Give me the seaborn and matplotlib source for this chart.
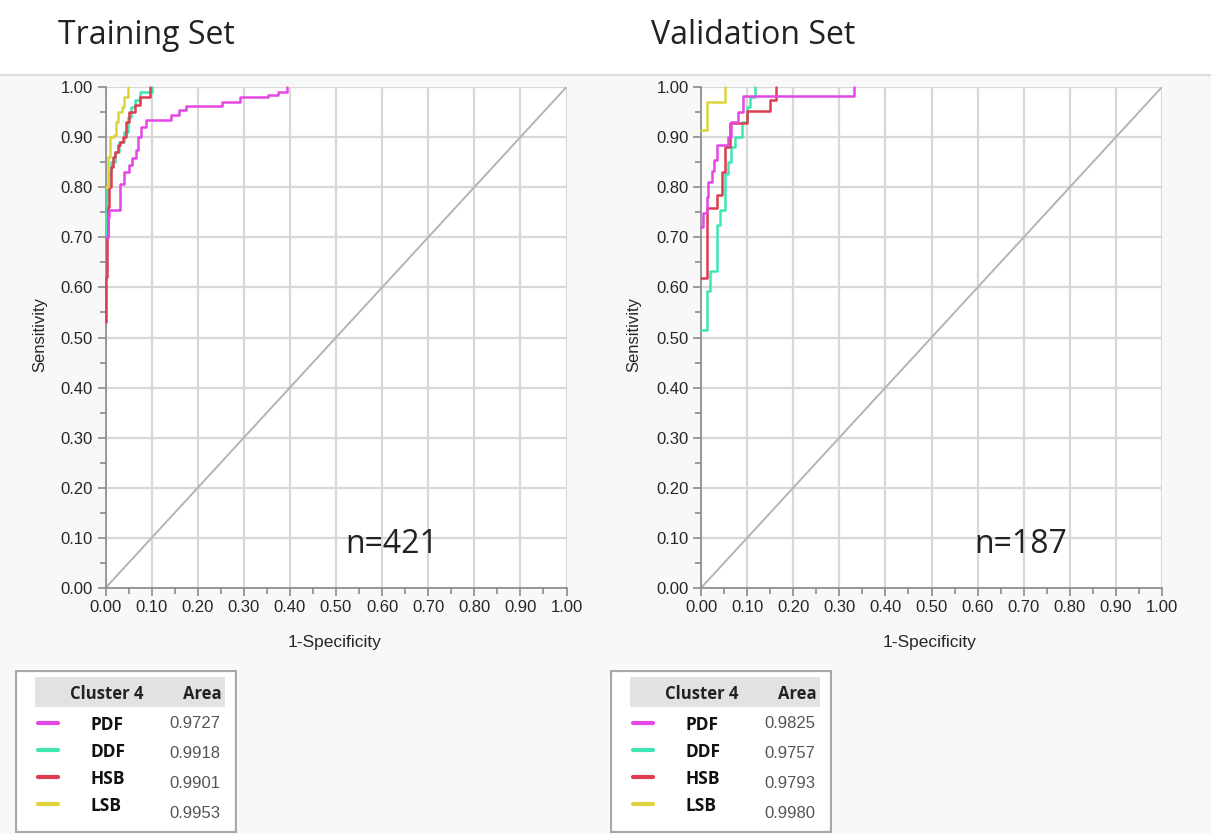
import numpy as np
import matplotlib
matplotlib.use("Agg")
import matplotlib.pyplot as plt
import seaborn as sns
from matplotlib.patches import Rectangle
from matplotlib.lines import Line2D

sns.set_style("white")
plt.rcParams['font.family'] = ['Liberation Sans', 'DejaVu Sans']

# ---- data (points = riser x, top of riser y) ----
methods = ['PDF', 'DDF', 'HSB', 'LSB']
colors = {'PDF': '#e448e4', 'DDF': '#3ee6b4', 'HSB': '#e03c50', 'LSB': '#dcd43a'}

train_pdf_fpr = [0, 0.005, 0.008, 0.032, 0.04, 0.05, 0.058, 0.066, 0.07, 0.077, 0.088, 0.141, 0.159, 0.174, 0.252, 0.291, 0.352, 0.374, 0.394]
train_pdf_tpr = [0.70, 0.74, 0.755, 0.806, 0.83, 0.845, 0.858, 0.875, 0.90, 0.92, 0.935, 0.945, 0.955, 0.963, 0.97, 0.98, 0.985, 0.99, 1.0]
train_ddf_fpr = [0, 0, 0.003, 0.008, 0.012, 0.02, 0.03, 0.04, 0.048, 0.055, 0.065, 0.075, 0.1]
train_ddf_tpr = [0.70, 0.75, 0.80, 0.83, 0.85, 0.87, 0.89, 0.91, 0.94, 0.96, 0.975, 0.99, 1.0]
train_hsb_fpr = [0, 0.002, 0.004, 0.006, 0.008, 0.011, 0.016, 0.02, 0.027, 0.032, 0.038, 0.045, 0.052, 0.063, 0.074, 0.097]
train_hsb_tpr = [0.53, 0.62, 0.70, 0.76, 0.80, 0.84, 0.86, 0.87, 0.885, 0.89, 0.90, 0.93, 0.95, 0.965, 0.98, 1.0]
train_lsb_fpr = [0, 0.005, 0.009, 0.018, 0.022, 0.027, 0.035, 0.04, 0.048]
train_lsb_tpr = [0.80, 0.86, 0.90, 0.905, 0.93, 0.95, 0.96, 0.98, 1.0]

valid_pdf_fpr = [0, 0.005, 0.012, 0.016, 0.023, 0.028, 0.035, 0.059, 0.066, 0.081, 0.091, 0.332]
valid_pdf_tpr = [0.72, 0.748, 0.78, 0.81, 0.833, 0.854, 0.884, 0.90, 0.93, 0.95, 0.983, 1.0]
valid_ddf_fpr = [0, 0.003, 0.012, 0.019, 0.034, 0.041, 0.052, 0.059, 0.066, 0.073, 0.088, 0.099, 0.106, 0.117]
valid_ddf_tpr = [0.514, 0.514, 0.592, 0.633, 0.724, 0.755, 0.827, 0.85, 0.88, 0.90, 0.93, 0.96, 0.98, 1.0]
valid_hsb_fpr = [0, 0.012, 0.034, 0.045, 0.052, 0.063, 0.099, 0.149, 0.163]
valid_hsb_tpr = [0.619, 0.758, 0.785, 0.83, 0.881, 0.929, 0.952, 0.975, 1.0]
valid_lsb_fpr = [0, 0.012, 0.052]
valid_lsb_tpr = [0.915, 0.97, 1.0]

train_area = ['0.9727', '0.9918', '0.9901', '0.9953']
valid_area = ['0.9825', '0.9757', '0.9793', '0.9980']

W, H = 1211, 834
fig = plt.figure(figsize=(W / 100, H / 100), dpi=100, facecolor='white')

# light gray report panel below the titles
bg = fig.add_axes([0, 0, 1, (H - 75) / H], zorder=-10)
bg.set_facecolor('#f8f8f8')
bg.set_xticks([]); bg.set_yticks([])
for s in ['left', 'right', 'bottom']:
    bg.spines[s].set_visible(False)
bg.spines['top'].set_color('#dcdcdc')
bg.spines['top'].set_linewidth(1.5)


def px(x, y):
    return x / W, 1 - y / H


def roc_panel(left_px, title, title_x, n_text, n_x, curves, ylab_x, xlab_x):
    ax = fig.add_axes([left_px / W, (H - 588) / H, 461 / W, 501 / H])
    ax.set_facecolor('white')
    ax.set_xlim(0, 1)
    ax.set_ylim(0, 1)
    ticks = np.round(np.arange(0, 1.01, 0.1), 2)
    ax.set_xticks(ticks)
    ax.set_yticks(ticks)
    ax.set_xticks(np.arange(0.05, 1, 0.1), minor=True)
    ax.set_yticks(np.arange(0.05, 1, 0.1), minor=True)
    ax.set_xticklabels([f'{t:.2f}' for t in ticks])
    ax.set_yticklabels([f'{t:.2f}' for t in ticks])
    ax.tick_params(which='major', direction='out', length=6, width=1.2, color='#8a8a8a',
                   labelsize=12, labelcolor='#262626', pad=3, left=True, bottom=True)
    ax.tick_params(which='minor', direction='out', length=4, width=1.2, color='#8a8a8a',
                   left=True, bottom=True)
    ax.grid(True, which='major', color='#d8d8d8', lw=1.6)
    ax.set_axisbelow(True)
    for s in ['top', 'right']:
        ax.spines[s].set_visible(False)
    for s in ['left', 'bottom']:
        ax.spines[s].set_color('#8a8a8a')
        ax.spines[s].set_linewidth(1.2)

    ax.plot([0, 1], [0, 1], color='#b4b4b4', lw=1.4, zorder=1)
    for name, (fpr, tpr) in curves:
        sns.lineplot(x=fpr, y=tpr, ax=ax, color=colors[name], sort=False, estimator=None,
                     drawstyle='steps-post', lw=1.8, clip_on=False, zorder=3)
    ax.set_xlabel('')
    ax.set_ylabel('')

    ax.text(n_x, 0.086, n_text, fontsize=23, family='Open Sans', color='#222222',
            ha='center', va='center')
    fig.text(*px(title_x, 44), title, fontsize=23, family='Open Sans', color='#222222',
             ha='left', va='baseline')
    fig.text(*px(ylab_x, 335), 'Sensitivity', fontsize=12, rotation=90, color='#262626',
             ha='center', va='center')
    fig.text(*px(xlab_x, 643), '1-Specificity', fontsize=12.5, color='#262626',
             ha='center', va='center')
    return ax


def legend_box(left_px, areas):
    lx = fig.add_axes([left_px / W, (H - 833) / H, 222 / W, 163 / H])
    lx.set_xlim(0, 222)
    lx.set_ylim(163, 0)
    lx.axis('off')
    lx.add_patch(Rectangle((1, 1), 220, 161, facecolor='white', edgecolor='#a8a8a8', lw=1.6))
    lx.add_patch(Rectangle((20, 7), 190, 30, facecolor='#e2e2e2', edgecolor='none'))
    lx.text(92, 24, 'Cluster 4', fontsize=12, fontweight='bold', family='Open Sans',
            ha='center', va='center', color='#222222')
    lx.text(207, 24, 'Area', fontsize=12, fontweight='bold', family='Open Sans',
            ha='right', va='center', color='#222222')
    name_y = [55, 82, 109, 136]
    val_y = [54, 84, 114, 144]
    for i, name in enumerate(methods):
        lx.add_line(Line2D([23, 43], [name_y[i] - 2, name_y[i] - 2], color=colors[name], lw=3))
        lx.text(75, name_y[i], name, fontsize=12.5, fontweight='bold', family='Open Sans',
                ha='left', va='center', color='#111111')
        lx.text(205, val_y[i], areas[i], fontsize=12, ha='right', va='center', color='#555555')


roc_panel(105.5, 'Training Set', 58, 'n=421', 0.62,
          [('DDF', (train_ddf_fpr, train_ddf_tpr)),
           ('HSB', (train_hsb_fpr, train_hsb_tpr)),
           ('PDF', (train_pdf_fpr, train_pdf_tpr)),
           ('LSB', (train_lsb_fpr, train_lsb_tpr))],
          40, 335)
roc_panel(701, 'Validation Set', 651, 'n=187', 0.694,
          [('DDF', (valid_ddf_fpr, valid_ddf_tpr)),
           ('HSB', (valid_hsb_fpr, valid_hsb_tpr)),
           ('PDF', (valid_pdf_fpr, valid_pdf_tpr)),
           ('LSB', (valid_lsb_fpr, valid_lsb_tpr))],
          634, 930)

legend_box(15, train_area)
legend_box(610, valid_area)

fig.savefig('out.png', dpi=100, facecolor='white')
